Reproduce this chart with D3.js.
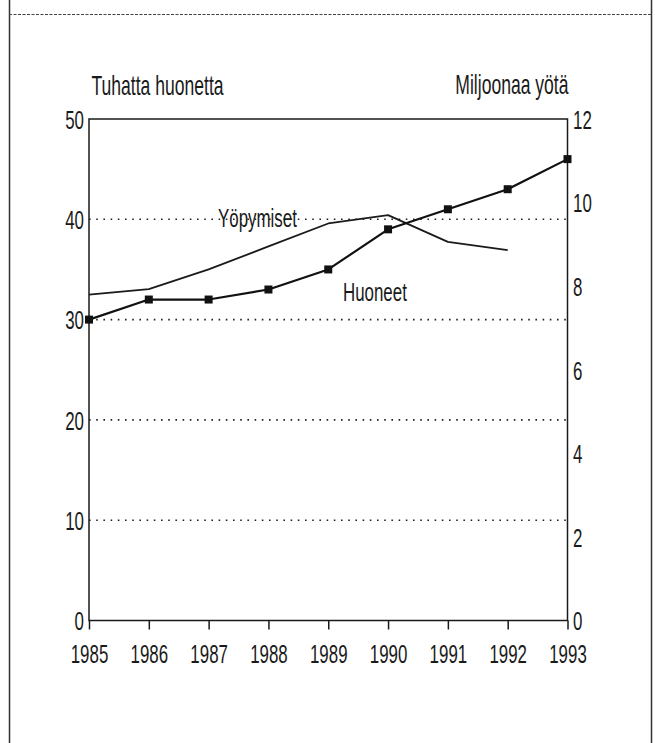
<!DOCTYPE html>
<html>
<head>
<meta charset="utf-8">
<script src="https://cdn.jsdelivr.net/npm/d3@7"></script>
<style>
  body { margin: 0; background: #fff; }
  svg text { font-family: "Liberation Sans", Arial, sans-serif; fill: #1a1a1a; }
</style>
</head>
<body>
<div id="chart"></div>
<script>
// data
var years = ["1985", "1986", "1987", "1988", "1989", "1990", "1991", "1992", "1993"];
var huoneet = [30, 32, 32, 33, 35, 39, 41, 43, 46];           // tuhatta huonetta (left axis)
var yopymiset = [7.8, 7.93, 8.4, 8.95, 9.5, 9.7, 9.06, 8.86];  // miljoonaa yötä (right axis), to 1992
var leftTicks = [0, 10, 20, 30, 40, 50];
var rightTicks = [0, 2, 4, 6, 8, 10, 12];
var gridTicks = [10, 20, 30, 40];

var width = 655, height = 743;
var sx = 0.65; // condensed look of the original type

var svg = d3.select("#chart").append("svg")
    .attr("width", width)
    .attr("height", height);

// page frame: side rules and dashed rule under the (cut) title
svg.append("line").attr("x1", 9.5).attr("x2", 9.5).attr("y1", 0).attr("y2", height)
    .attr("stroke", "#333").attr("stroke-width", 1.5);
svg.append("line").attr("x1", 651.5).attr("x2", 651.5).attr("y1", 0).attr("y2", height)
    .attr("stroke", "#333").attr("stroke-width", 1.5);
svg.append("line").attr("x1", 9).attr("x2", 652).attr("y1", 14.5).attr("y2", 14.5)
    .attr("stroke", "#444").attr("stroke-width", 1.2).attr("stroke-dasharray", "3,1.5");

var x = d3.scalePoint().domain(years).range([89, 567.5]);
var yL = d3.scaleLinear().domain([0, 50]).range([620.5, 119]);
var yR = d3.scaleLinear().domain([0, 12]).range([620.5, 119]);

// dotted grid
svg.append("g").selectAll("line")
    .data(gridTicks)
    .enter().append("line")
    .attr("x1", 89).attr("x2", 567.5)
    .attr("y1", d => yL(d)).attr("y2", d => yL(d))
    .attr("stroke", "#222").attr("stroke-width", 1.6)
    .attr("stroke-dasharray", "1.6,5.6");

// frame of plot
svg.append("rect")
    .attr("x", 89).attr("y", 119)
    .attr("width", 567.5 - 89).attr("height", 620.5 - 119)
    .attr("fill", "none").attr("stroke", "#1a1a1a").attr("stroke-width", 1.5);

// axes
var xAxis = svg.append("g")
    .attr("transform", "translate(0,620.5)")
    .call(d3.axisBottom(x).tickSize(9).tickPadding(15).tickSizeOuter(0));
xAxis.select(".domain").remove();
xAxis.selectAll("line").attr("stroke", "#1a1a1a").attr("stroke-width", 1.5);
xAxis.selectAll("text")
    .attr("font-size", 26)
    .attr("transform", "scale(" + sx + ",1)");

var lAxis = svg.append("g")
    .attr("transform", "translate(89,0)")
    .call(d3.axisLeft(yL).tickValues(leftTicks).tickSize(0).tickPadding(5 / sx));
lAxis.select(".domain").remove();
lAxis.selectAll("text")
    .attr("font-size", 26)
    .attr("dy", "0.36em")
    .attr("transform", "scale(" + sx + ",1)");

var rAxis = svg.append("g")
    .attr("transform", "translate(567.5,0)")
    .call(d3.axisRight(yR).tickValues(rightTicks).tickSize(0).tickPadding(5.5 / sx));
rAxis.select(".domain").remove();
rAxis.selectAll("text")
    .attr("font-size", 26)
    .attr("dy", "0.36em")
    .attr("transform", "scale(" + sx + ",1)");
svg.selectAll(".tick text").attr("fill", "#1a1a1a").style("font-family", "'Liberation Sans', Arial, sans-serif");

// helper for condensed labels
function label(txt, px, py, anchor, size) {
    svg.append("text")
        .attr("transform", "translate(" + px + "," + py + ") scale(" + sx + ",1)")
        .attr("text-anchor", anchor)
        .attr("font-size", size)
        .text(txt);
}

label("Tuhatta huonetta", 91.5, 95, "start", 27);
label("Miljoonaa yötä", 568.5, 94, "end", 27);

// Yöpymiset line (right axis)
var lineR = d3.line()
    .x((d, i) => x(years[i]))
    .y(d => yR(d));
svg.append("path")
    .datum(yopymiset)
    .attr("fill", "none")
    .attr("stroke", "#1a1a1a")
    .attr("stroke-width", 1.8)
    .attr("stroke-linejoin", "round")
    .attr("d", lineR);

// Huoneet line with square markers (left axis)
var lineL = d3.line()
    .x((d, i) => x(years[i]))
    .y(d => yL(d));
svg.append("path")
    .datum(huoneet)
    .attr("fill", "none")
    .attr("stroke", "#111")
    .attr("stroke-width", 2.2)
    .attr("stroke-linejoin", "round")
    .attr("d", lineL);

svg.append("g").selectAll("rect")
    .data(huoneet)
    .enter().append("rect")
    .attr("x", (d, i) => x(years[i]) - 4)
    .attr("y", d => yL(d) - 4)
    .attr("width", 8)
    .attr("height", 8)
    .attr("fill", "#111");

label("Yöpymiset", 218, 227, "start", 26);
label("Huoneet", 343, 300.5, "start", 26);
</script>
</body>
</html>
